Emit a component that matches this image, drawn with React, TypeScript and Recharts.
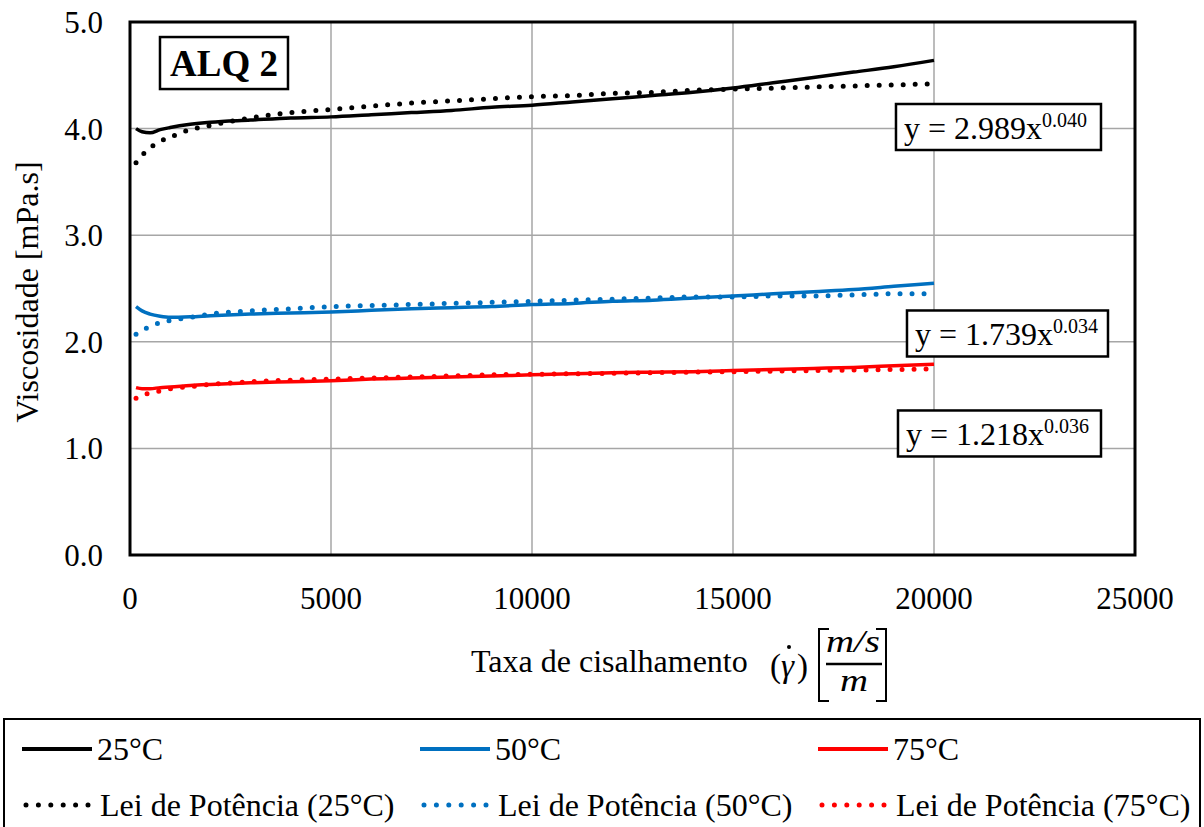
import React from 'react';
import { LineChart, Line, XAxis, YAxis, CartesianGrid, ReferenceArea, ReferenceDot } from 'recharts';

// shear rate (1/s) sampled along the curves
const shearRate = [150, 300, 500, 750, 1000, 1500, 2000, 3000, 4000, 5000, 6000, 7000, 8000, 9000, 10000, 11000, 12000, 13000, 14000, 15000, 16000, 17000, 18000, 19000, 20000];

// measured viscosity [mPa.s]
const visc25 = [4.0, 3.97, 3.96, 3.99, 4.01, 4.04, 4.06, 4.08, 4.1, 4.11, 4.13, 4.15, 4.17, 4.2, 4.22, 4.25, 4.28, 4.31, 4.34, 4.38, 4.43, 4.48, 4.53, 4.58, 4.64];
const visc50 = [2.33, 2.29, 2.26, 2.24, 2.23, 2.235, 2.245, 2.26, 2.27, 2.28, 2.295, 2.31, 2.32, 2.33, 2.35, 2.36, 2.38, 2.39, 2.41, 2.43, 2.45, 2.47, 2.49, 2.52, 2.55];
const visc75 = [1.57, 1.56, 1.56, 1.57, 1.575, 1.59, 1.6, 1.615, 1.625, 1.635, 1.65, 1.66, 1.67, 1.68, 1.69, 1.7, 1.71, 1.715, 1.72, 1.73, 1.74, 1.75, 1.76, 1.775, 1.79];

// power-law fits
const fit25 = [3.68, 3.75, 3.82, 3.88, 3.92, 3.99, 4.03, 4.1, 4.15, 4.18, 4.21, 4.24, 4.26, 4.28, 4.3, 4.31, 4.33, 4.34, 4.36, 4.37, 4.38, 4.39, 4.4, 4.41, 4.42];
const fit50 = [2.07, 2.11, 2.14, 2.18, 2.2, 2.23, 2.26, 2.29, 2.31, 2.33, 2.34, 2.35, 2.36, 2.37, 2.38, 2.39, 2.4, 2.41, 2.42, 2.42, 2.43, 2.43, 2.44, 2.45, 2.45];
const fit75 = [1.47, 1.5, 1.52, 1.54, 1.56, 1.58, 1.6, 1.625, 1.64, 1.65, 1.66, 1.67, 1.68, 1.69, 1.695, 1.7, 1.705, 1.71, 1.715, 1.72, 1.725, 1.73, 1.735, 1.74, 1.745];

const xTicks = [0, 5000, 10000, 15000, 20000, 25000];
const yTicks = [0, 1, 2, 3, 4, 5];

const eqMain = ['y = 2.989x', 'y = 1.739x', 'y = 1.218x'];
const eqExp = ['0.040', '0.034', '0.036'];

const legendNames = ['25°C', '50°C', '75°C', 'Lei de Potência (25°C)', 'Lei de Potência (50°C)', 'Lei de Potência (75°C)'];

const FONT = '"Liberation Serif", "Times New Roman", serif';
const BLACK = '#000000';
const BLUE = '#0070C0';
const RED = '#FF0000';
const colors = [BLACK, BLUE, RED];

const data = shearRate.map((x, i) => ({
  x,
  v25: visc25[i],
  v50: visc50[i],
  v75: visc75[i],
  f25: fit25[i],
  f50: fit50[i],
  f75: fit75[i],
}));

const EqBox = (idx: number, w: number) => (props: any) => {
  const { cx, cy } = props;
  const h = 46;
  return (
    <g>
      <rect x={cx - w / 2} y={cy - h / 2} width={w} height={h} fill="#fff" stroke="#000" strokeWidth={2.5} />
      <text x={cx - w / 2 + 8} y={cy + 12} style={{ fontFamily: FONT }} fontSize={32} fill="#000">
        {eqMain[idx]}
        <tspan dy={-12} fontSize={20}>{eqExp[idx]}</tspan>
      </text>
    </g>
  );
};

const TitleBox = (props: any) => {
  const { cx, cy } = props;
  return (
    <g>
      <rect x={cx - 64} y={cy - 26} width={128} height={52} fill="#fff" stroke="#000" strokeWidth={2.5} />
      <text x={cx} y={cy + 13} textAnchor="middle" style={{ fontFamily: FONT }} fontSize={37} fontWeight="bold" fill="#000">
        ALQ 2
      </text>
    </g>
  );
};

const XTick = (props: any) => {
  const { x, y, payload } = props;
  return (
    <text x={x} y={y} dy={22} textAnchor="middle" style={{ fontFamily: FONT }} fontSize={31} fill="#000">
      {payload.value}
    </text>
  );
};

const YTick = (props: any) => {
  const { x, y, payload } = props;
  return (
    <text x={x} y={y} dy={11} textAnchor="end" style={{ fontFamily: FONT }} fontSize={31} fill="#000">
      {Number(payload.value).toFixed(1)}
    </text>
  );
};

const XLabel = (props: any) => {
  const { viewBox } = props;
  const ox = viewBox.x - 130;
  const oy = viewBox.y - 555;
  return (
    <g style={{ fontFamily: FONT }} fill="#000">
      <text x={ox + 471} y={oy + 672} fontSize={32}>Taxa de cisalhamento</text>
      <text x={ox + 770} y={oy + 677} style={{ fontSize: 33 }}>(</text>
      <text x={ox + 781} y={oy + 677} style={{ fontSize: 33, fontStyle: 'italic' }}>γ</text>
      <text x={ox + 797} y={oy + 677} style={{ fontSize: 33 }}>)</text>
      <circle cx={ox + 789} cy={oy + 647} r={2} fill="#000" />
      <path d={`M ${ox + 829} ${oy + 629} L ${ox + 819} ${oy + 629} L ${ox + 819} ${oy + 701} L ${ox + 829} ${oy + 701}`} stroke="#000" strokeWidth={2} fill="none" />
      <path d={`M ${ox + 876} ${oy + 629} L ${ox + 886} ${oy + 629} L ${ox + 886} ${oy + 701} L ${ox + 876} ${oy + 701}`} stroke="#000" strokeWidth={2} fill="none" />
      <text x={ox + 826} y={oy + 652} fontSize={32} fontStyle="italic" textLength={54} lengthAdjust="spacingAndGlyphs">m/s</text>
      <line x1={ox + 826} x2={ox + 882} y1={oy + 664} y2={oy + 664} stroke="#000" strokeWidth={2.5} />
      <text x={ox + 840} y={oy + 691} fontSize={32} fontStyle="italic" textLength={28} lengthAdjust="spacingAndGlyphs">m</text>
    </g>
  );
};

const YLabel = () => (
  <text x={38} y={292} transform="rotate(-90, 38, 292)" textAnchor="middle" style={{ fontFamily: FONT }} fontSize={32} fill="#000">
    Viscosidade [mPa.s]
  </text>
);

function LegendBox() {
  const cols = [22, 420, 818];
  return (
    <div
      style={{
        position: 'absolute',
        left: 3,
        top: 718,
        width: 1198,
        height: 120,
        border: '2px solid #000',
        boxSizing: 'border-box',
        fontFamily: FONT,
        fontSize: 32,
        color: '#000',
      }}
    >
      {legendNames.map((name, i) => {
        const col = i % 3;
        const dotted = i >= 3;
        const left = cols[col] - 5;
        const top = dotted ? 67 : 11;
        return (
          <div key={name} style={{ position: 'absolute', left, top, display: 'flex', alignItems: 'center', whiteSpace: 'nowrap', lineHeight: '36px' }}>
            <svg width={dotted ? 78 : 75} height={12} style={{ display: 'block' }}>
              {dotted ? (
                <line x1={4} x2={66} y1={6} y2={6} stroke={colors[col]} strokeWidth={5} strokeDasharray="0 12.4" strokeLinecap="round" />
              ) : (
                <line x1={0} x2={70} y1={6} y2={6} stroke={colors[col]} strokeWidth={4} />
              )}
            </svg>
            <span>{name}</span>
          </div>
        );
      })}
    </div>
  );
}

export default function App() {
  return (
    <div style={{ position: 'absolute', left: 0, top: 0, width: 1204, height: 827, background: '#fff', overflow: 'hidden', fontFamily: FONT }}>
      <LineChart width={1204} height={827} data={data} margin={{ top: 22, right: 69, left: 0, bottom: 112 }} style={{ fontFamily: FONT }}>
        <CartesianGrid stroke="#a6a6a6" strokeWidth={1.5} />
        <XAxis
          dataKey="x"
          type="number"
          domain={[0, 25000]}
          ticks={xTicks}
          interval={0}
          height={160}
          axisLine={false}
          tickLine={false}
          tickSize={0}
          tickMargin={32}
          tick={XTick}
          label={{ content: XLabel }}
        />
        <YAxis
          type="number"
          domain={[0, 5]}
          ticks={yTicks}
          interval={0}
          width={130}
          axisLine={false}
          tickLine={false}
          tickSize={0}
          tickMargin={27}
          tick={YTick}
          label={{ content: YLabel }}
        />
        <ReferenceArea x1={0} x2={25000} y1={0} y2={5} fill="none" stroke="#000" strokeWidth={3} ifOverflow="visible" />

        <Line type="monotone" dataKey="f25" stroke={BLACK} strokeWidth={5} strokeDasharray="0 12" strokeLinecap="round" dot={false} isAnimationActive={false} />
        <Line type="monotone" dataKey="f50" stroke={BLUE} strokeWidth={5} strokeDasharray="0 12" strokeLinecap="round" dot={false} isAnimationActive={false} />
        <Line type="monotone" dataKey="f75" stroke={RED} strokeWidth={5} strokeDasharray="0 12" strokeLinecap="round" dot={false} isAnimationActive={false} />
        <Line type="monotone" dataKey="v25" stroke={BLACK} strokeWidth={3.5} dot={false} isAnimationActive={false} />
        <Line type="monotone" dataKey="v50" stroke={BLUE} strokeWidth={3.5} dot={false} isAnimationActive={false} />
        <Line type="monotone" dataKey="v75" stroke={RED} strokeWidth={3.5} dot={false} isAnimationActive={false} />

        <ReferenceDot x={2338} y={4.615} r={0} ifOverflow="visible" shape={TitleBox} />
        <ReferenceDot x={21604} y={4.015} r={0} ifOverflow="visible" shape={EqBox(0, 205)} />
        <ReferenceDot x={21828} y={2.078} r={0} ifOverflow="visible" shape={EqBox(1, 201)} />
        <ReferenceDot x={21629} y={1.14} r={0} ifOverflow="visible" shape={EqBox(2, 203)} />
      </LineChart>
      <LegendBox />
    </div>
  );
}
